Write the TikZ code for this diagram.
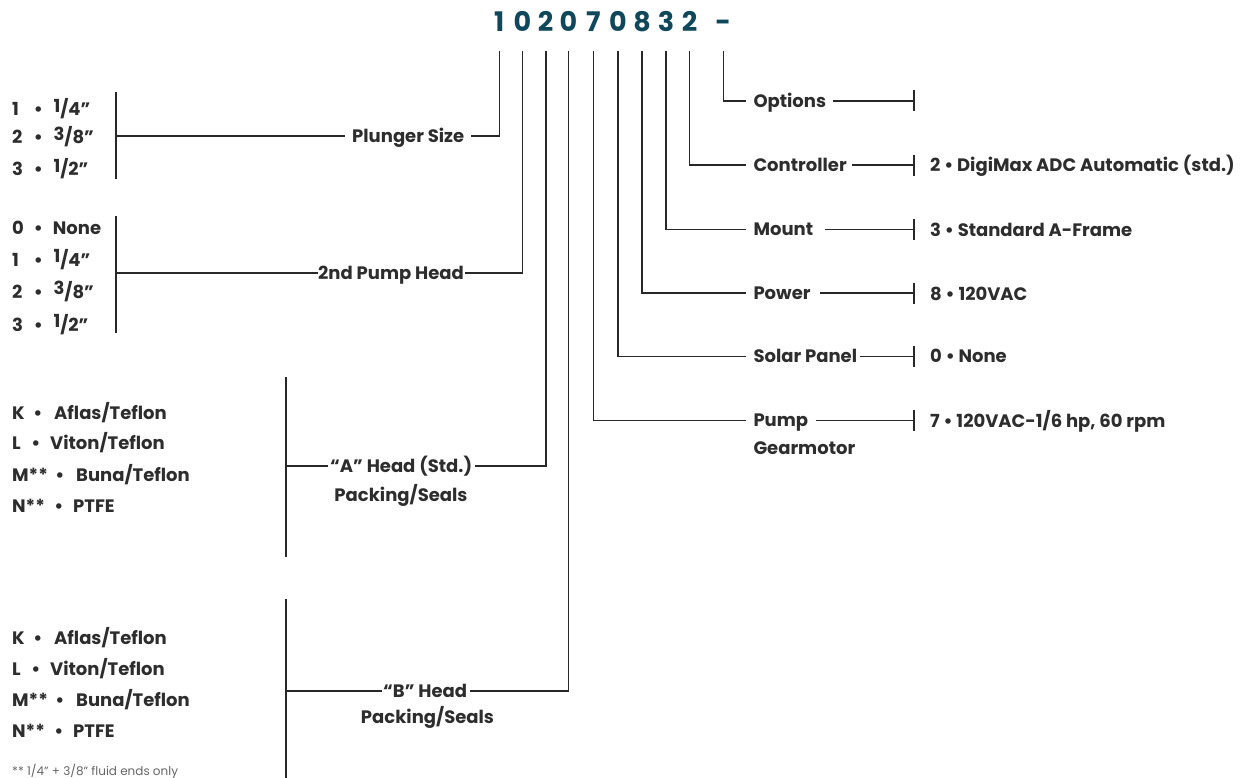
\documentclass[tikz,border=0pt]{standalone}
\usepackage{fontspec}
\setmainfont{Poppins}
\definecolor{titleclr}{RGB}{14,72,90}
\definecolor{txtclr}{RGB}{45,45,45}
\definecolor{lnclr}{RGB}{40,40,40}
\definecolor{noteclr}{RGB}{100,100,100}
\newcommand\fr[2]{\raisebox{3.5pt}{#1}/#2"}
\newcommand\optrow[6]{%
  \node[lbl] (#1k) at (12,#2) {#3};
  \node[lbl,anchor=center] (#1b) at (#4,#2) {\textbullet};
  \node[lbl] (#1t) at (#5,#2) {#6};}
\begin{document}
\begin{tikzpicture}[x=1pt,y=-1pt,
  lbl/.style={anchor=west, inner sep=0pt, text height=12.6pt, text depth=0pt,
    font=\fontsize{18}{21}\selectfont\bfseries, text=txtclr},
  dig/.style={anchor=center, inner sep=0pt, text height=19pt, text depth=0pt,
    font=\fontsize{27}{30}\selectfont\bfseries, text=titleclr},
  ln/.style={line width=1.6pt, draw=lnclr},
  tickmark/.style={line width=1.6pt, draw=lnclr}]
\useasboundingbox (0,0) rectangle (1247,778);

% title digits
\node[dig] (d1) at (499.3,22) {1};
\node[dig] (d2) at (522.3,22) {0};
\node[dig] (d3) at (545.7,22) {2};
\node[dig] (d4) at (568.3,22) {0};
\node[dig] (d5) at (593.3,22) {7};
\node[dig] (d6) at (618,22) {0};
\node[dig] (d7) at (642,22) {8};
\node[dig] (d8) at (666,22) {3};
\node[dig] (d9) at (689.5,22) {2};
\node[dig] (d10) at (723.3,22) {-};

\coordinate (t1) at (499.3,50.7);
\coordinate (t2) at (522.3,50.7);
\coordinate (t3) at (545.7,50.7);
\coordinate (t4) at (568.3,50.7);
\coordinate (t5) at (593.3,50.7);
\coordinate (t6) at (618,50.7);
\coordinate (t7) at (642,50.7);
\coordinate (t8) at (666,50.7);
\coordinate (t9) at (689.5,50.7);
\coordinate (t10) at (723.3,50.7);

% left option lists
\optrow{pa}{109.3}{1}{38.3}{53.3}{\fr{1}{4}}
\optrow{pb}{137.3}{2}{38.3}{53.3}{\fr{3}{8}}
\optrow{pc}{169.3}{3}{38.3}{53.3}{\fr{1}{2}}

\optrow{ha}{227.7}{0}{38.3}{52.7}{None}
\optrow{hb}{260}{1}{38.3}{53.3}{\fr{1}{4}}
\optrow{hc}{291.7}{2}{38.3}{53.3}{\fr{3}{8}}
\optrow{hd}{325}{3}{38.3}{53.3}{\fr{1}{2}}

\optrow{aa}{413}{K}{38}{54}{Aflas/Teflon}
\optrow{ab}{443.3}{L}{36}{50}{Viton/Teflon}
\optrow{ac}{474.7}{M**}{60}{76}{Buna/Teflon}
\optrow{ad}{505.7}{N**}{59}{73}{PTFE}

\optrow{ba}{638.3}{K}{38}{54}{Aflas/Teflon}
\optrow{bb}{669.3}{L}{36}{50}{Viton/Teflon}
\optrow{bc}{700}{M**}{60}{76}{Buna/Teflon}
\optrow{bd}{730.7}{N**}{59}{73}{PTFE}

\node[anchor=west, inner sep=0pt, font=\fontsize{12}{14}\selectfont, text=noteclr]
  (note) at (12,771) {** 1/4” + 3/8” fluid ends only};

% left group labels
\node[lbl] (plunger) at (352,136) {Plunger Size};
\node[lbl] (second) at (318,273) {2nd Pump Head};
\node[lbl] (ahead) at (330,465.7) {“A” Head (Std.)};
\node[lbl,anchor=center] (apack) at (401,495) {Packing/Seals};
\node[lbl] (bhead) at (383,690.7) {“B” Head};
\node[lbl,anchor=center] (bpack) at (427.5,716.7) {Packing/Seals};

% brackets
\coordinate (b1top) at (115.7,92);
\coordinate (b1bot) at (115.7,179);
\coordinate (b2top) at (115.7,216);
\coordinate (b2bot) at (115.7,333);
\coordinate (b3top) at (286,377);
\coordinate (b3bot) at (286,557);
\coordinate (b4top) at (286,599);
\coordinate (b4bot) at (286,778);
\draw[ln] (b1top) -- (b1bot);
\draw[ln] (b2top) -- (b2bot);
\draw[ln] (b3top) -- (b3bot);
\draw[ln] (b4top) -- (b4bot);

\draw[ln] (b1top |- plunger.west) -- ([xshift=-7pt]plunger.west);
\draw[ln] (t1) |- ([xshift=7pt]plunger.east);
\draw[ln] (b2top |- second.west) -- ([xshift=-0.5pt]second.west);
\draw[ln] (t2) |- ([xshift=0.5pt]second.east);
\draw[ln] (b3top |- ahead.west) -- ([xshift=-2pt]ahead.west);
\draw[ln] (t3) |- ([xshift=2.5pt]ahead.east);
\draw[ln] (b4top |- bhead.west) -- ([xshift=-1.5pt]bhead.west);
\draw[ln] (t4) |- ([xshift=3pt]bhead.east);

% right side labels
\node[lbl] (opt) at (753.3,101) {Options};
\node[lbl] (ctl) at (753.3,165.3) {Controller};
\node[lbl] (mnt) at (753.3,229.5) {Mount};
\node[lbl] (pwr) at (753.3,293) {Power};
\node[lbl] (sol) at (753.3,356.5) {Solar Panel};
\node[lbl] (pmp) at (753.3,420.3) {Pump};
\node[lbl] (gear) at (753.3,448.3) {Gearmotor};

\draw[ln] (t10) |- ([xshift=-7.6pt]opt.west);
\draw[ln] (t9) |- ([xshift=-7.6pt]ctl.west);
\draw[ln] (t8) |- ([xshift=-7.6pt]mnt.west);
\draw[ln] (t7) |- ([xshift=-7.6pt]pwr.west);
\draw[ln] (t6) |- ([xshift=-7.6pt]sol.west);
\draw[ln] (t5) |- ([xshift=-7.6pt]pmp.west);

\coordinate (k1) at (913.8,101);
\coordinate (k2) at (913.8,165.3);
\coordinate (k3) at (913.8,229.5);
\coordinate (k4) at (913.8,293);
\coordinate (k5) at (913.8,356.5);
\coordinate (k6) at (913.8,420.3);

\draw[ln] ([xshift=6.6pt]opt.east) -- (k1);
\draw[ln] ([xshift=5pt]ctl.east) -- (k2);
\draw[ln] ([xshift=11.6pt]mnt.east) -- (k3);
\draw[ln] ([xshift=9.4pt]pwr.east) -- (k4);
\draw[ln] ([xshift=2.6pt]sol.east) -- (k5);
\draw[ln] ([xshift=7.3pt]pmp.east) -- (k6);
\foreach \k in {k1,k2,k3,k4,k5,k6}
  \draw[tickmark] ([yshift=10.5pt]\k) -- ([yshift=-10.5pt]\k);

\node[lbl] (vctl) at (930,165.3) {2 \textbullet\ DigiMax ADC Automatic (std.)};
\node[lbl] (vmnt) at (930,230.5) {3 \textbullet\ Standard A-Frame};
\node[lbl] (vpwr) at (930,293.7) {8 \textbullet\ 120VAC};
\node[lbl] (vsol) at (930,356) {0 \textbullet\ None};
\node[lbl] (vpmp) at (930,420.7) {7 \textbullet\ 120VAC-1/6 hp, 60 rpm};
\end{tikzpicture}
\end{document}
